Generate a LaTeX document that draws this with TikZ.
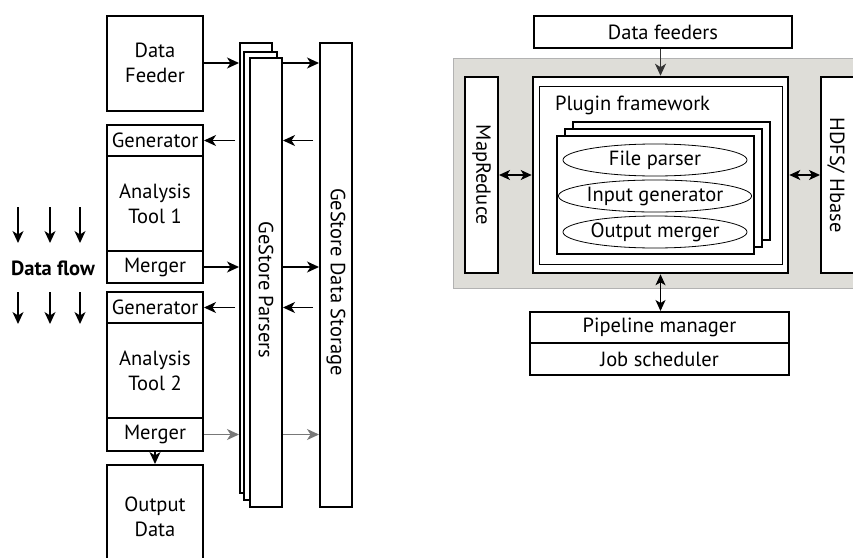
\documentclass[tikz,border=0pt]{standalone}
\usepackage{fontspec}
\setmainfont{PT Sans}
\usetikzlibrary{arrows.meta,positioning,calc,shapes.geometric}

\definecolor{hadoopgray}{RGB}{222,221,216}
\definecolor{flowgray}{RGB}{120,120,120}

\begin{document}
\begin{tikzpicture}[x=1pt,y=-1pt,
  every node/.style={font=\fontsize{20.5}{25}\selectfont,inner sep=0pt},
  flow/.style={-{Stealth[length=12pt,width=11pt,inset=3.5pt]},line width=1.5pt},
  dual/.style={{Stealth[length=11pt,width=10pt,inset=3pt]}-{Stealth[length=11pt,width=10pt,inset=3pt]},line width=1.5pt},
  ]
  \clip (0,0) rectangle (853,557);
  \begin{scope}[
    tool box/.style={
      draw,
      fill=white,
      line width=2pt,
      align=center,
      minimum width=96pt,
    },
    tall box/.style={
      draw,
      fill=white,
      line width=2pt,
      minimum width=32pt,
    },
    ]
    \node[tool box,minimum height=95pt] (feeder) at (155,63)    {Data\\Feeder};
    \node[tool box,minimum height=31pt] (gen1)   at (155,140.5) {Generator};
    \node[tool box,minimum height=95pt] (tool1)  at (155,203.5) {Analysis\\Tool 1};
    \node[tool box,minimum height=32pt] (merg1)  at (155,267)   {Merger};
    \node[tool box,minimum height=31pt] (gen2)   at (155,307.5) {Generator};
    \node[tool box,minimum height=95pt] (tool2)  at (155,370.5) {Analysis\\Tool 2};
    \node[tool box,minimum height=33pt] (merg2)  at (155,434.5) {Merger};
    \node[tool box,minimum height=104pt] (output) at (155,517) {Output\\Data};
    \node[tall box,minimum height=450pt] (parsA) at (256,268) {};
    \node[tall box,minimum height=448pt,minimum width=33pt] (parsB) at (260.5,276) {};
    \node[tall box,minimum height=449pt] (parsC) at (266,282.5) {};
    \node[rotate=-90] (parsers-label) at (266,290) {GeStore Parsers};
    \node[tall box,minimum height=464pt] (store) at (336,275) {};
    \node[rotate=-90] (store-label) at (336,282) {GeStore Data Storage};
    \draw[flow] (feeder.east) -- (feeder.east -| parsA.west);
    \draw[flow] (feeder.east -| parsC.east) -- (feeder.east -| store.west);
    \draw[flow] ($(gen1.east -| parsA.west)+(-4,0)$) -- (gen1.east);
    \draw[flow] ($(gen1.east -| store.west)+(-6,0)$) -- (gen1.east -| parsC.east);
    \draw[flow] (merg1.east) -- (merg1.east -| parsA.west);
    \draw[flow] (merg1.east -| parsC.east) -- (merg1.east -| store.west);
    \draw[flow] ($(gen2.east -| parsA.west)+(-4,0)$) -- (gen2.east);
    \draw[flow] ($(gen2.east -| store.west)+(-6,0)$) -- (gen2.east -| parsC.east);
    \draw[flow,flowgray] (merg2.east) -- (merg2.east -| parsA.west);
    \draw[flow,flowgray] (merg2.east -| parsC.east) -- (merg2.east -| store.west);
    \draw[flow] (merg2.south) -- (output.north);
  \end{scope}
  \node[font=\fontsize{20.5}{25}\selectfont\bfseries] (dataflow) at (53,268) {Data flow};
  \foreach \x [count=\i] in {18,50,80}{
    \coordinate (flow-top\i) at (\x,207);
    \coordinate (flow-mid\i) at (\x,243);
    \coordinate (flow-low\i) at (\x,292);
    \coordinate (flow-end\i) at (\x,324);
    \draw[flow] (flow-top\i) -- (flow-mid\i);
    \draw[flow] (flow-low\i) -- (flow-end\i);
  }
  \begin{scope}[
    layer box/.style={
      draw,
      fill=white,
      line width=2pt,
      minimum height=32pt,
    },
    card/.style={
      draw,
      fill=white,
      line width=2pt,
      minimum width=197pt,
      minimum height=118pt,
    },
    step oval/.style={
      draw,
      ellipse,
      line width=0.8pt,
      minimum width=184pt,
      minimum height=32pt,
    },
    ]
    \node[layer box,minimum width=258pt] (feeders) at (663,32) {Data feeders};
    \node[draw=black!30,fill=hadoopgray,line width=1pt,minimum width=417pt,minimum height=230pt] (hadoop) at (661.5,173) {};
    \node[layer box,minimum width=33pt,minimum height=196pt] (mapred) at (481.5,175) {};
    \node[rotate=-90] (mapred-label) at (mapred.center) {MapReduce};
    \node[layer box,minimum width=34pt,minimum height=196pt] (hdfs) at (838,175) {};
    \node[rotate=-90] (hdfs-label) at (836,175) {HDFS/ Hbase};
    \node[draw,fill=white,line width=2.6pt,minimum width=255pt,minimum height=196pt] (outer) at (660.5,175) {};
    \node[draw,line width=0.9pt,minimum width=243pt,minimum height=178pt] (framework) at (660.5,175) {};
    \node[anchor=west] (framework-label) at (555,105) {Plugin framework};
    \foreach \d [count=\i] in {16,8,0}{
      \node[card] (card\i) at (655.5+\d,194.5-0.875*\d) {};
    }
    \node[step oval] (parser)  at (655,160) {File parser};
    \node[step oval] (inputgen) at (655,196) {Input generator};
    \node[step oval] (merger)  at (655,232) {Output merger};
    \node[layer box,minimum width=259pt,minimum height=31pt] (pipeline) at (659.5,327.5) {Pipeline manager};
    \node[layer box,minimum width=259pt] (scheduler) at (659.5,359) {Job scheduler};
    \draw[dual] (mapred.east) -- (outer.west);
    \draw[dual] (outer.east) -- (hdfs.west);
    \draw[flow,line width=1pt,black!80] (feeders.south -| outer.north) -- (outer.north);
    \draw[dual,line width=1pt] (outer.south) -- (outer.south |- pipeline.north);
  \end{scope}
\end{tikzpicture}
\end{document}
